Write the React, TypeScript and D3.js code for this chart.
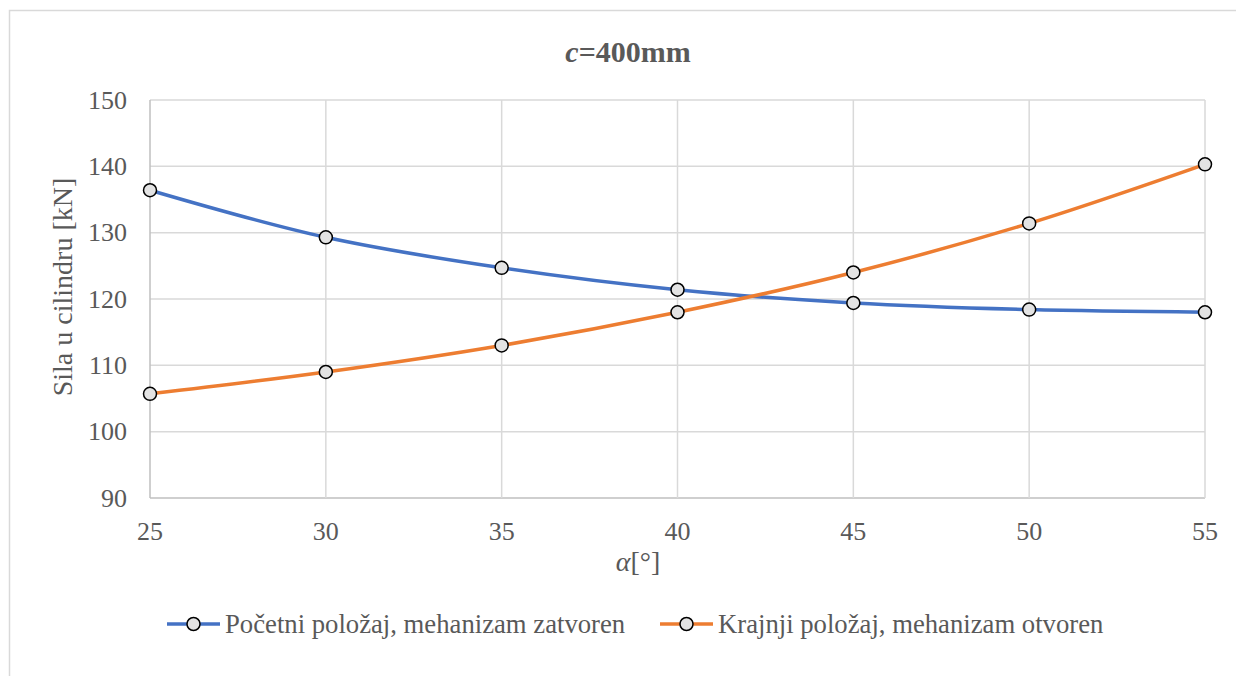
import React from "react";
import * as d3 from "d3";

const angles = [25, 30, 35, 40, 45, 50, 55];
const closedForce = [136.4, 129.3, 124.7, 121.4, 119.4, 118.4, 118.0];
const openForce = [105.7, 109.0, 113.0, 118.0, 124.0, 131.4, 140.3];
const yTicks = [90, 100, 110, 120, 130, 140, 150];
const xTicks = [25, 30, 35, 40, 45, 50, 55];
const seriesNames = ["Početni položaj, mehanizam zatvoren", "Krajnji položaj, mehanizam otvoren"];
const seriesColors = ["#4472C4", "#ED7D31"];

const W = 1236;
const H = 676;
const plot = { left: 150, right: 1205, top: 100, bottom: 498 };
const font = '"Liberation Serif", "Times New Roman", Times, serif';
const textColor = "#595959";

export default function App() {
  const x = d3.scaleLinear().domain([25, 55]).range([plot.left, plot.right]);
  const y = d3.scaleLinear().domain([90, 150]).range([plot.bottom, plot.top]);
  const line = d3
    .line<[number, number]>()
    .x((d) => x(d[0]))
    .y((d) => y(d[1]))
    .curve(d3.curveCatmullRom.alpha(0.5));
  const series = [closedForce, openForce].map((vals) =>
    angles.map((a, i) => [a, vals[i]] as [number, number])
  );
  const legendItems = [
    { lineX1: 167, lineX2: 220, textX: 225 },
    { lineX1: 660, lineX2: 713, textX: 718 },
  ];
  const legendY = 624;
  const ts: React.CSSProperties = { fontFamily: font };

  return (
    <svg
      width={W}
      height={H}
      style={{ position: "absolute", left: 0, top: 0, background: "#fff", fontFamily: font }}
    >
      <rect x={0} y={0} width={W} height={H} fill="#fff" />
      <rect x={9.5} y={10.5} width={W + 20} height={H + 20} fill="none" stroke="#d9d9d9" strokeWidth={1.5} />

      {/* title */}
      <text x={628} y={51} textAnchor="middle" dominantBaseline="central" fontSize={30} fontWeight="bold" fill={textColor} style={ts}>
        <tspan fontStyle="italic">c</tspan>=400mm
      </text>

      {/* gridlines */}
      {yTicks.map((t) => (
        <line key={"gy" + t} x1={plot.left} x2={plot.right} y1={y(t)} y2={y(t)} stroke={t === 90 ? "#bfbfbf" : "#d9d9d9"} strokeWidth={1.5} />
      ))}
      {xTicks.map((t) => (
        <line key={"gx" + t} x1={x(t)} x2={x(t)} y1={plot.top} y2={plot.bottom} stroke={t === 25 ? "#bfbfbf" : "#d9d9d9"} strokeWidth={1.5} />
      ))}

      {/* y tick labels */}
      {yTicks.map((t) => (
        <text key={"ty" + t} x={127} y={y(t)} textAnchor="end" dominantBaseline="central" fontSize={26} fill={textColor} style={ts}>
          {t}
        </text>
      ))}
      {/* x tick labels */}
      {xTicks.map((t) => (
        <text key={"tx" + t} x={x(t)} y={531} textAnchor="middle" dominantBaseline="central" fontSize={26} fill={textColor} style={ts}>
          {t}
        </text>
      ))}

      {/* axis titles */}
      <text
        transform={`translate(62,${(plot.top + plot.bottom) / 2 - 12}) rotate(-90)`}
        textAnchor="middle"
        dominantBaseline="central"
        fontSize={28}
        fill={textColor}
        style={ts}
      >
        Sila u cilindru [kN]
      </text>
      <text x={638} y={561} textAnchor="middle" dominantBaseline="central" fontSize={28} fill={textColor} style={ts}>
        <tspan fontStyle="italic">α</tspan>[°]
      </text>

      {/* series */}
      {series.map((pts, si) => (
        <g key={"s" + si}>
          <path d={line(pts) || ""} fill="none" stroke={seriesColors[si]} strokeWidth={3.5} />
          {pts.map((p, i) => (
            <circle key={i} cx={x(p[0])} cy={y(p[1])} r={6.5} fill="#e3e3e3" stroke="#000" strokeWidth={1.5} />
          ))}
        </g>
      ))}

      {/* legend */}
      {legendItems.map((it, i) => (
        <g key={"l" + i}>
          <line x1={it.lineX1} x2={it.lineX2} y1={legendY} y2={legendY} stroke={seriesColors[i]} strokeWidth={3.5} />
          <circle cx={(it.lineX1 + it.lineX2) / 2} cy={legendY} r={6.5} fill="#e3e3e3" stroke="#000" strokeWidth={1.5} />
          <text x={it.textX} y={legendY} dominantBaseline="central" fontSize={26.7} fill={textColor} style={ts}>
            {seriesNames[i]}
          </text>
        </g>
      ))}
    </svg>
  );
}
